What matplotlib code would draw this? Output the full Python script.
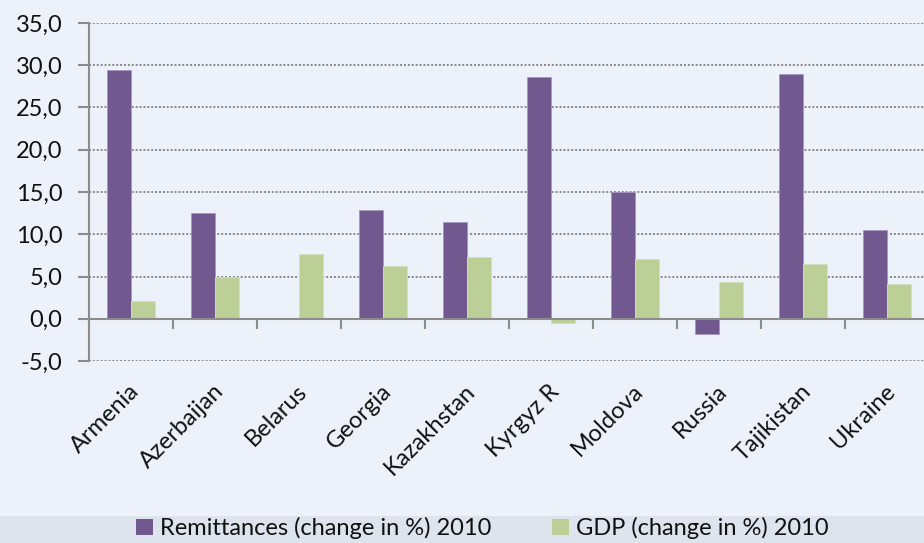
import numpy as np
import matplotlib
matplotlib.use('Agg')
import matplotlib.pyplot as plt
from matplotlib.patches import Patch, Rectangle
from matplotlib.ticker import FuncFormatter, MultipleLocator
from matplotlib.transforms import blended_transform_factory, offset_copy

countries = ['Armenia', 'Azerbaijan', 'Belarus', 'Georgia', 'Kazakhstan',
             'Kyrgyz R', 'Moldova', 'Russia', 'Tajikistan', 'Ukraine']
remittances = [29.4, 12.5, np.nan, 12.9, 11.5, 28.6, 15.0, -1.8, 29.0, 10.5]
gdp = [2.1, 5.0, 7.7, 6.2, 7.3, -0.5, 7.1, 4.3, 6.5, 4.1]

purple = '#71588F'
green = '#BBCF96'
bg = '#EDF1FA'
axis_grey = '#8C8C8C'

plt.rcParams['font.family'] = ['Lato', 'DejaVu Sans']

fig = plt.figure(figsize=(9.24, 5.43), dpi=100, facecolor=bg)
# legend strip along the bottom edge
fig.patches.append(Rectangle((0, 0), 1, 27 / 543, transform=fig.transFigure,
                             facecolor='#DDE4EE', edgecolor='none', zorder=0))

ax = fig.add_axes([89 / 924, 1 - 361 / 543, 840 / 924, 338 / 543])
ax.set_facecolor('none')

x = np.arange(len(countries))
w = 0.286
ax.bar(x - w / 2, remittances, w, color=purple, edgecolor='#A597BD', linewidth=0.6, zorder=3)
ax.bar(x + w / 2, gdp, w, color=green, edgecolor='#D3DFBD', linewidth=0.6, zorder=3)

ax.set_xlim(-0.5, len(countries) - 0.5)
ax.set_ylim(-5, 35)
ax.yaxis.set_major_locator(MultipleLocator(5))
ax.yaxis.set_major_formatter(FuncFormatter(lambda v, p: f'{v:.1f}'.replace('.', ',')))
ax.grid(axis='y', linestyle=(0, (1, 1)), color='#888888', linewidth=1.4, zorder=1)

for s in ['top', 'right']:
    ax.spines[s].set_visible(False)
ax.spines['left'].set_color(axis_grey)
ax.spines['left'].set_linewidth(1.5)
ax.spines['bottom'].set_position(('data', 0))
ax.spines['bottom'].set_color(axis_grey)
ax.spines['bottom'].set_linewidth(1.5)
ax.spines['bottom'].set_zorder(4)

ax.set_xticks(np.arange(-0.5, len(countries), 1.0))
ax.set_xticklabels([])
ax.tick_params(axis='x', direction='out', length=7, width=1.5, color=axis_grey)
ax.tick_params(axis='y', direction='out', length=8, width=1.5, color=axis_grey,
               labelsize=17, pad=11, labelcolor='#111111')

# rotated category names below the plot
trans = offset_copy(blended_transform_factory(ax.transData, ax.transAxes),
                    fig=fig, x=5, y=-27, units='dots')
for xi, name in zip(x, countries):
    ax.text(xi, 0, name, transform=trans, rotation=45, rotation_mode='anchor',
            ha='right', va='center', fontsize=17, color='#111111')

handles = [Patch(facecolor=purple, label='Remittances (change in %) 2010'),
           Patch(facecolor=green, label='GDP (change in %) 2010')]
fig.legend(handles=handles, loc='center', bbox_to_anchor=(0.522, 15 / 543), ncol=2,
           frameon=False, fontsize=17, handlelength=0.7, handleheight=0.7,
           handletextpad=0.3, columnspacing=2.6, labelcolor='#111111')

fig.savefig('out.png', dpi=100, facecolor=bg)
